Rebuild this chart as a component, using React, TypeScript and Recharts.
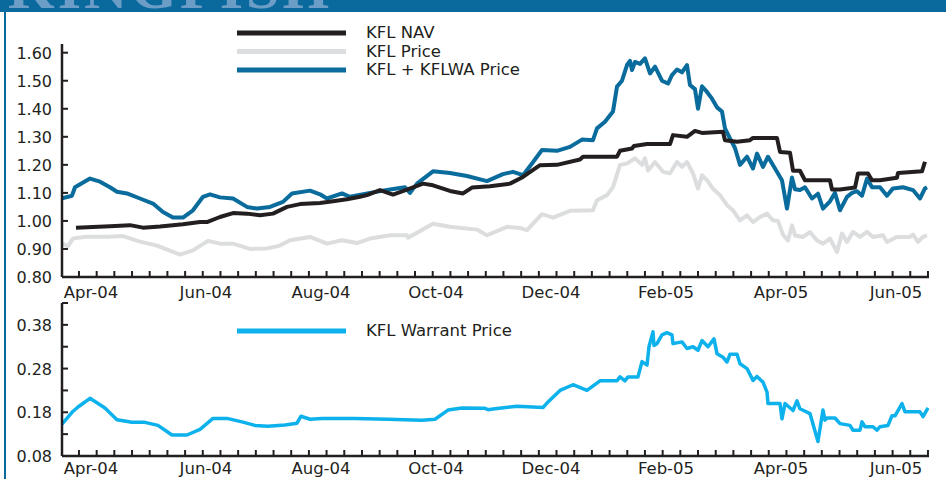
import { LineChart, Line, XAxis, YAxis } from "recharts";

const INK = "#231f20";
const FONT = "'DejaVu Sans', Verdana, sans-serif";
const BLUE = "#0a6b9d";
const GREY = "#dcddde";
const CYAN = "#0db1ec";

// time axis: months counted from Apr-04 (0 = Apr-04, 10 = Feb-05)
const monthTicks = [0, 2, 4, 6, 8, 10, 12, 14];
const monthLabels = ["Apr-04", "Jun-04", "Aug-04", "Oct-04", "Dec-04", "Feb-05", "Apr-05", "Jun-05"];
const minorTicks = Array.from({ length: 49 }, (_, i) => +(-0.209 + i * 0.3076).toFixed(3));
const xTicks = [...minorTicks, ...monthTicks];

const navTicks = [0.8, 0.9, 1.0, 1.1, 1.2, 1.3, 1.4, 1.5, 1.6];
const warrantTicks = [0.08, 0.13, 0.18, 0.23, 0.28, 0.33, 0.38, 0.43];
const warrantLabelled = [0.08, 0.18, 0.28, 0.38];

// [month, value]
const kflNav: [number, number][] = [
  [-0.261, 0.976], [0.33, 0.981], [0.678, 0.985], [0.904, 0.976], [1.2, 0.98], [1.6, 0.988],
  [1.896, 0.996], [2.017, 0.996], [2.243, 1.014], [2.47, 1.028], [2.713, 1.026], [2.939, 1.02],
  [3.165, 1.026], [3.409, 1.05], [3.635, 1.06], [3.983, 1.064], [4.209, 1.07], [4.452, 1.077],
  [4.678, 1.086], [4.8, 1.092], [5.026, 1.11], [5.252, 1.094], [5.496, 1.112], [5.774, 1.133],
  [5.948, 1.127], [6.243, 1.107], [6.47, 1.098], [6.626, 1.119], [6.939, 1.124], [7.287, 1.133],
  [7.513, 1.157], [7.809, 1.199], [8.104, 1.2], [8.504, 1.219], [8.557, 1.229], [9.148, 1.229],
  [9.2, 1.25], [9.409, 1.258], [9.443, 1.267], [9.67, 1.274], [10.07, 1.274], [10.122, 1.306],
  [10.365, 1.3], [10.504, 1.321], [10.626, 1.314], [10.991, 1.318], [11.026, 1.288], [11.235, 1.282],
  [11.461, 1.288], [11.513, 1.296], [11.93, 1.296], [11.983, 1.246], [12.157, 1.243], [12.209, 1.179],
  [12.33, 1.179], [12.417, 1.145], [12.852, 1.145], [12.887, 1.112], [13.026, 1.112], [13.287, 1.119],
  [13.339, 1.169], [13.513, 1.169], [13.583, 1.145], [13.722, 1.145], [14.017, 1.154], [14.035, 1.171],
  [14.452, 1.177], [14.504, 1.211],
];

const kflPrice: [number, number][] = [
  [-0.504, 0.919], [-0.4, 0.91], [-0.313, 0.937], [-0.07, 0.944], [0.33, 0.944], [0.557, 0.946],
  [0.852, 0.926], [1.148, 0.912], [1.548, 0.88], [1.774, 0.895], [2.035, 0.929], [2.243, 0.919],
  [2.47, 0.919], [2.765, 0.9], [3.061, 0.902], [3.287, 0.912], [3.461, 0.931], [3.809, 0.943],
  [4.104, 0.919], [4.365, 0.931], [4.626, 0.921], [4.852, 0.937], [5.2, 0.949], [5.496, 0.949],
  [5.513, 0.94], [5.948, 0.99], [6.243, 0.979], [6.713, 0.969], [6.887, 0.949], [7.235, 0.979],
  [7.461, 0.975], [7.583, 0.967], [7.843, 1.024], [8.035, 1.012], [8.33, 1.036], [8.73, 1.038],
  [8.8, 1.074], [8.974, 1.092], [9.078, 1.12], [9.2, 1.2], [9.322, 1.205], [9.461, 1.223],
  [9.583, 1.2], [9.635, 1.223], [9.687, 1.18], [9.809, 1.21], [9.948, 1.175], [10.07, 1.17],
  [10.191, 1.21], [10.278, 1.193], [10.365, 1.21], [10.47, 1.17], [10.557, 1.115], [10.626, 1.163],
  [10.713, 1.145], [10.817, 1.115], [10.939, 1.092], [11.061, 1.056], [11.165, 1.038], [11.287, 1.002],
  [11.409, 1.02], [11.513, 0.996], [11.635, 1.014], [11.757, 1.026], [11.861, 1.002], [11.948, 1.0],
  [12.035, 0.95], [12.122, 0.93], [12.191, 0.984], [12.243, 0.948], [12.383, 0.943], [12.504, 0.96],
  [12.626, 0.93], [12.73, 0.919], [12.852, 0.937], [12.974, 0.889], [13.061, 0.955], [13.148, 0.925],
  [13.252, 0.961], [13.374, 0.943], [13.496, 0.961], [13.6, 0.943], [13.774, 0.949], [13.843, 0.925],
  [14.017, 0.943], [14.243, 0.943], [14.296, 0.951], [14.383, 0.925], [14.47, 0.943], [14.539, 0.949],
];

const kflPlusWarrant: [number, number][] = [
  [-0.504, 1.081], [-0.33, 1.09], [-0.278, 1.12], [-0.017, 1.151], [0.157, 1.14], [0.33, 1.12],
  [0.452, 1.104], [0.626, 1.098], [0.852, 1.08], [1.078, 1.062], [1.252, 1.032], [1.426, 1.012],
  [1.6, 1.012], [1.774, 1.038], [1.948, 1.086], [2.07, 1.095], [2.243, 1.084], [2.47, 1.08],
  [2.713, 1.05], [2.887, 1.044], [3.113, 1.05], [3.339, 1.068], [3.496, 1.098], [3.809, 1.108],
  [3.983, 1.095], [4.104, 1.08], [4.365, 1.098], [4.504, 1.086], [4.852, 1.1], [5.2, 1.112],
  [5.461, 1.12], [5.548, 1.1], [5.67, 1.133], [5.948, 1.177], [6.243, 1.171], [6.539, 1.16],
  [6.887, 1.142], [7.165, 1.167], [7.339, 1.175], [7.513, 1.163], [7.67, 1.205], [7.843, 1.253],
  [8.104, 1.25], [8.33, 1.264], [8.539, 1.29], [8.73, 1.288], [8.8, 1.33], [8.939, 1.354],
  [9.078, 1.39], [9.148, 1.479], [9.235, 1.5], [9.322, 1.556], [9.374, 1.571], [9.409, 1.538],
  [9.461, 1.567], [9.548, 1.56], [9.635, 1.58], [9.722, 1.526], [9.809, 1.55], [9.93, 1.5],
  [10.035, 1.49], [10.104, 1.52], [10.191, 1.54], [10.278, 1.53], [10.365, 1.556], [10.417, 1.485],
  [10.504, 1.47], [10.557, 1.4], [10.626, 1.48], [10.713, 1.46], [10.8, 1.436], [10.887, 1.405],
  [10.974, 1.39], [11.026, 1.33], [11.113, 1.294], [11.2, 1.26], [11.287, 1.2], [11.409, 1.229],
  [11.513, 1.187], [11.583, 1.24], [11.687, 1.193], [11.774, 1.229], [11.896, 1.187], [12.017, 1.145],
  [12.104, 1.044], [12.191, 1.155], [12.243, 1.113], [12.33, 1.11], [12.417, 1.12], [12.539, 1.08],
  [12.643, 1.097], [12.73, 1.044], [12.852, 1.07], [12.939, 1.1], [13.026, 1.038], [13.148, 1.086],
  [13.235, 1.1], [13.322, 1.106], [13.409, 1.09], [13.496, 1.151], [13.583, 1.12], [13.722, 1.12],
  [13.843, 1.09], [13.948, 1.116], [14.122, 1.12], [14.296, 1.11], [14.417, 1.08], [14.504, 1.116],
  [14.539, 1.12],
];

const kflWarrant: [number, number][] = [
  [-0.504, 0.153], [-0.33, 0.18], [-0.226, 0.192], [-0.017, 0.212], [0.243, 0.19], [0.452, 0.163],
  [0.713, 0.157], [0.939, 0.157], [1.165, 0.15], [1.409, 0.128], [1.67, 0.128], [1.896, 0.141],
  [2.122, 0.166], [2.365, 0.166], [2.626, 0.158], [2.852, 0.15], [3.078, 0.148], [3.374, 0.151],
  [3.583, 0.155], [3.652, 0.171], [3.809, 0.164], [4.017, 0.166], [4.591, 0.166], [5.165, 0.164],
  [5.757, 0.162], [5.983, 0.164], [6.209, 0.185], [6.452, 0.19], [6.852, 0.189], [6.904, 0.186],
  [7.026, 0.188], [7.409, 0.194], [7.861, 0.191], [7.93, 0.201], [8.157, 0.23], [8.383, 0.243],
  [8.626, 0.23], [8.852, 0.252], [9.148, 0.252], [9.2, 0.261], [9.287, 0.252], [9.339, 0.261],
  [9.513, 0.261], [9.583, 0.296], [9.67, 0.288], [9.704, 0.33], [9.774, 0.364], [9.791, 0.333],
  [9.843, 0.337], [9.93, 0.357], [10.017, 0.362], [10.104, 0.357], [10.122, 0.337], [10.278, 0.341],
  [10.365, 0.326], [10.47, 0.33], [10.557, 0.322], [10.626, 0.344], [10.73, 0.33], [10.835, 0.348],
  [10.887, 0.314], [10.991, 0.306], [11.061, 0.295], [11.113, 0.313], [11.235, 0.313], [11.287, 0.291],
  [11.409, 0.28], [11.513, 0.253], [11.583, 0.262], [11.687, 0.249], [11.757, 0.226], [11.774, 0.2],
  [11.983, 0.2], [12.017, 0.165], [12.07, 0.2], [12.209, 0.184], [12.278, 0.206], [12.33, 0.188],
  [12.504, 0.177], [12.643, 0.113], [12.73, 0.185], [12.765, 0.162], [12.8, 0.167], [12.939, 0.167],
  [13.026, 0.154], [13.2, 0.15], [13.252, 0.139], [13.374, 0.139], [13.409, 0.158], [13.461, 0.147],
  [13.6, 0.147], [13.67, 0.139], [13.722, 0.147], [13.861, 0.15], [13.93, 0.172], [13.983, 0.172],
  [14.104, 0.2], [14.157, 0.181], [14.417, 0.181], [14.47, 0.17], [14.557, 0.19],
];

const toRows = (pts: [number, number][]) => pts.map(([t, v]) => ({ t, v }));

function XTick({ x, y, payload, gap = 21 }: any) {
  const i = monthTicks.indexOf(payload.value);
  if (i >= 0) {
    return (
      <text x={x} y={y + gap} textAnchor="middle" fontSize={16.5} fontFamily={FONT} fill={INK}>
        {monthLabels[i]}
      </text>
    );
  }
  return <line x1={x} x2={x} y1={y} y2={y - 6} stroke={INK} strokeWidth={2} />;
}

function YTick({ x, y, payload, labelled }: any) {
  const v = payload.value as number;
  const show = !labelled || labelled.some((l: number) => Math.abs(l - v) < 1e-6);
  return (
    <g>
      <line x1={x} x2={x + 6} y1={y} y2={y} stroke={INK} strokeWidth={2} />
      {show && (
        <text x={x - 10} y={y + 6} textAnchor="end" fontSize={16} fontFamily={FONT} fill={INK}>
          {v.toFixed(2)}
        </text>
      )}
    </g>
  );
}

function LegendRow({ y, color, label }: { y: number; color: string; label: string }) {
  return (
    <g>
      <line x1={237} x2={346} y1={y} y2={y} stroke={color} strokeWidth={5} />
      <text x={366} y={y + 5} fontSize={16.5} fontFamily={FONT} fill={INK}>{label}</text>
    </g>
  );
}

const xAxisProps = {
  dataKey: "t",
  type: "number" as const,
  domain: [-0.504, 14.574],
  allowDataOverflow: true,
  ticks: xTicks,
  interval: 0 as const,
  tickLine: false,
  tickSize: 0,
  tickMargin: 0,
  axisLine: { stroke: INK, strokeWidth: 2.5 },
};

export default function App() {
  return (
    <div style={{ position: "absolute", left: 0, top: 0, width: 946, height: 479, background: "#fff", overflow: "hidden", fontFamily: FONT }}>
      <div style={{ position: "absolute", left: 0, top: 0, width: 946, height: 12, background: "#0a6a9e", overflow: "hidden" }}>
        <svg width={946} height={12} style={{ position: "absolute", left: 0, top: 0 }}>
          <text x={8} y={8} fontSize={60} fontFamily="'Liberation Serif', serif" fontWeight="bold" fill="#6c9dc7" letterSpacing={3}>KINGFISH</text>
        </svg>
      </div>
      <div style={{ position: "absolute", left: 4, top: 12, width: 2, height: 467, background: "#0a6a9e" }} />

      <div style={{ position: "absolute", left: 0, top: 0 }}>
        <LineChart width={946} height={306} margin={{ top: 44, right: 17, bottom: 0, left: 0 }}>
          <XAxis {...xAxisProps} height={29} tick={<XTick gap={21} />} />
          <YAxis
            type="number"
            domain={[0.8, 1.631]}
            allowDataOverflow
            ticks={navTicks}
            interval={0}
            width={62}
            tickLine={false}
            tickSize={0}
            tickMargin={0}
            axisLine={{ stroke: INK, strokeWidth: 2.5 }}
            tick={<YTick />}
          />
          <Line data={toRows(kflPrice)} dataKey="v" type="linear" stroke={GREY} strokeWidth={4} dot={false} isAnimationActive={false} strokeLinejoin="round" />
          <Line data={toRows(kflPlusWarrant)} dataKey="v" type="linear" stroke={BLUE} strokeWidth={4} dot={false} isAnimationActive={false} strokeLinejoin="round" />
          <Line data={toRows(kflNav)} dataKey="v" type="linear" stroke={INK} strokeWidth={4} dot={false} isAnimationActive={false} strokeLinejoin="round" />
        </LineChart>
      </div>

      <div style={{ position: "absolute", left: 0, top: 290 }}>
        <LineChart width={946} height={189} margin={{ top: 13, right: 17, bottom: 0, left: 0 }}>
          <XAxis {...xAxisProps} height={23} tick={<XTick gap={18} />} />
          <YAxis
            type="number"
            domain={[0.08, 0.43]}
            allowDataOverflow
            ticks={warrantTicks}
            interval={0}
            width={62}
            tickLine={false}
            tickSize={0}
            tickMargin={0}
            axisLine={{ stroke: INK, strokeWidth: 2.5 }}
            tick={<YTick labelled={warrantLabelled} />}
          />
          <Line data={toRows(kflWarrant)} dataKey="v" type="linear" stroke={CYAN} strokeWidth={3.5} dot={false} isAnimationActive={false} strokeLinejoin="round" />
        </LineChart>
      </div>

      <svg width={946} height={479} style={{ position: "absolute", left: 0, top: 0, pointerEvents: "none" }}>
        <LegendRow y={33} color={INK} label="KFL NAV" />
        <LegendRow y={51.5} color={GREY} label="KFL Price" />
        <LegendRow y={70} color={BLUE} label="KFL + KFLWA Price" />
        <LegendRow y={331} color={CYAN} label="KFL Warrant Price" />
      </svg>
    </div>
  );
}
